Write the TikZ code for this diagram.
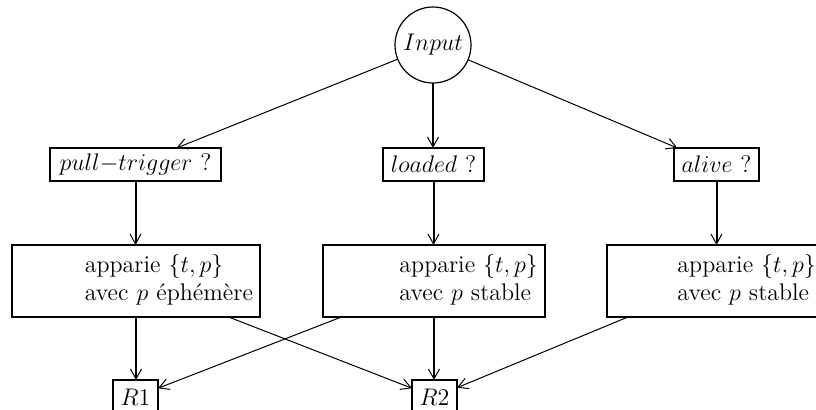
\documentclass[tikz,border=0pt]{standalone}
\usetikzlibrary{arrows.meta}
\begin{document}
\begin{tikzpicture}[x=0.5pt,y=-0.5pt,
  font=\large,
  every node/.style={inner sep=0pt, outer sep=0pt},
  qbox/.style={draw, line width=1.2pt, minimum height=16.5pt},
  bigbox/.style={draw, line width=1.2pt, minimum height=36pt, inner xsep=3.5pt, align=right},
  rbox/.style={draw, line width=1.2pt, minimum height=17pt, minimum width=22.5pt},
  tip/.style={-{Straight Barb[length=5pt,width=5.5pt,line width=0.5pt]}},
  thinarrow/.style={tip, line width=0.5pt},
  thickarrow/.style={tip, line width=1pt}
]
\useasboundingbox (0,0) rectangle (816,409);
\clip (0,0) rectangle (816,409);

\node[draw, circle, line width=0.6pt, minimum size=38pt] (input) at (433,45) {$Input$};

\node[qbox, minimum width=85.5pt] (q1) at (135.5,164.5) {$pull{-}trigger$ ?};
\node[qbox, minimum width=50.5pt] (q2) at (433.5,164.5) {$loaded$ ?};
\node[qbox, minimum width=42.5pt] (q3) at (716.5,164.5) {$alive$ ?};

\node[bigbox, text width=117pt] (b1) at (136,281) {\begin{tabular}{@{}l@{}}apparie $\{t,p\}$\\ avec $p$ éphémère\end{tabular}};
\node[bigbox, text width=104pt] (b2) at (434,281) {\begin{tabular}{@{}l@{}}apparie $\{t,p\}$\\ avec $p$ stable\end{tabular}};
\node[bigbox, text width=101pt] (b3) at (715,281) {\begin{tabular}{@{}l@{}}apparie $\{t,p\}$\\ avec $p$ stable\end{tabular}};

\node[rbox] (r1) at (135.5,397) {$R1$};
\node[rbox] (r2) at (434.5,397) {$R2$};

\draw[thinarrow] (input) -- (q1);
\draw[thickarrow] (input) -- (input |- q2.north);
\draw[thinarrow] (input) -- (q3);

\draw[thickarrow] (q1) -- (q1 |- b1.north);
\draw[thickarrow] (q2) -- (q2 |- b2.north);
\draw[thickarrow] (q3) -- (q3 |- b3.north);

\draw[thickarrow] (b1) -- (b1 |- r1.north);
\draw[thinarrow] (b1) -- (r2);
\draw[thinarrow] (b2) -- (r1);
\draw[thickarrow] (b2) -- (b2 |- r2.north);
\draw[thinarrow] (b3) -- (r2);
\end{tikzpicture}
\end{document}
